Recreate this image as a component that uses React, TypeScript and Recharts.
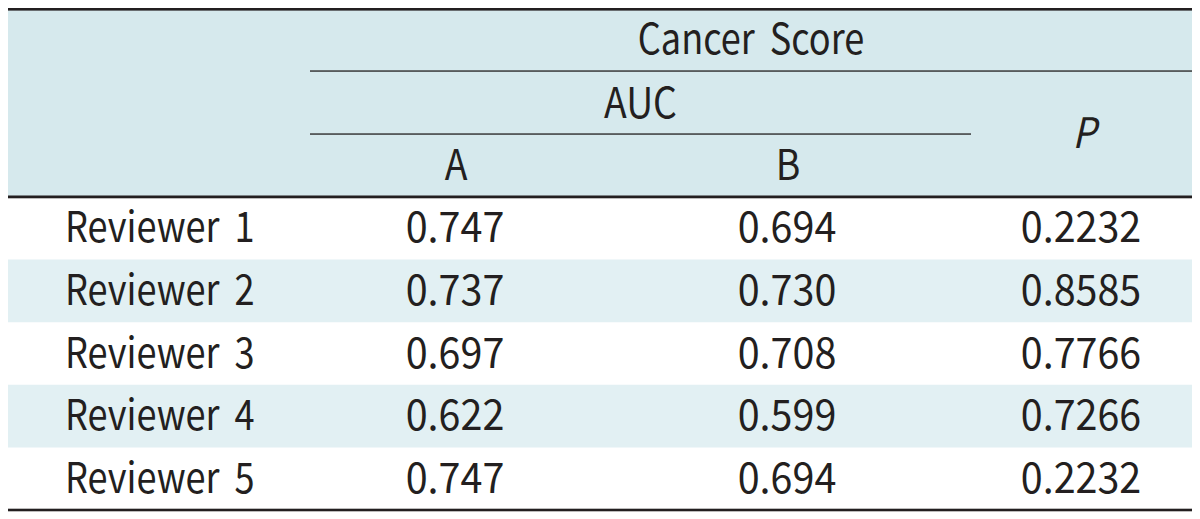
import React from "react";
import {
  ComposedChart,
  Scatter,
  XAxis,
  YAxis,
  ReferenceArea,
  Customized,
} from "recharts";

// ---- data ----
const reviewers = ["Reviewer 1", "Reviewer 2", "Reviewer 3", "Reviewer 4", "Reviewer 5"];
const aucA = [0.747, 0.737, 0.697, 0.622, 0.747];
const aucB = [0.694, 0.73, 0.708, 0.599, 0.694];
const pValues = [0.2232, 0.8585, 0.7766, 0.7266, 0.2232];
const groupTitle = "Cancer Score";
const subTitle = "AUC";
const columnLabels = ["A", "B"];
const pLabel = "P";
const shadedRows = ["Reviewer 2", "Reviewer 4"];

// ---- layout ----
const W = 1184;
const H = 508;
const HEADER_H = 189;
const BODY_BOTTOM = 502;
const FIRST_COL_W = 302;
const AUC_END = 963;
const COL_X = { A: 447, B: 779, P: 1073 };
const LABEL_X = 57;
const FONT = "'Noto Sans CJK KR', 'Noto Sans', sans-serif";
const FS = 42;
const SQUEEZE = 0.89;
const NUM_SQUEEZE = 0.94;
const TEXT = "#231f20";
const HEADER_BG = "#d6e9ed";
const ROW_BG = "#e2f0f3";

const makeSeries = (vals: number[], x: number, digits: number) =>
  reviewers.map((r, i) => ({ reviewer: r, x, value: vals[i], digits }));

const seriesA = makeSeries(aucA, COL_X.A, 3);
const seriesB = makeSeries(aucB, COL_X.B, 3);
const seriesP = makeSeries(pValues, COL_X.P, 4);

const SqText = ({
  x,
  y,
  anchor = "middle",
  italic = false,
  squeeze = SQUEEZE,
  wordSpacing = 0,
  children,
}: {
  x: number;
  y: number;
  anchor?: "start" | "middle" | "end";
  italic?: boolean;
  squeeze?: number;
  wordSpacing?: number;
  children: React.ReactNode;
}) => (
  <text
    transform={`translate(${x},${y}) scale(${squeeze},1)`}
    x={0}
    y={0}
    textAnchor={anchor}
    fontFamily={FONT}
    fontSize={FS}
    fontStyle={italic ? "italic" : "normal"}
    wordSpacing={wordSpacing}
    fill={TEXT}
  >
    {children}
  </text>
);

const CellText = (props: any) => {
  const { cx, cy, payload } = props;
  if (cx == null || cy == null) return null;
  return (
    <SqText x={cx} y={cy + 14} squeeze={NUM_SQUEEZE}>
      {payload.value.toFixed(payload.digits)}
    </SqText>
  );
};

const RowTick = (props: any) => {
  const { y, payload } = props;
  return (
    <SqText x={LABEL_X} y={y + 14} anchor="start" squeeze={0.86} wordSpacing={8}>
      {payload.value}
    </SqText>
  );
};

const Header = () => (
  <g>
    <rect x={0} y={0} width={W} height={HEADER_H} fill={HEADER_BG} />
    <rect x={0} y={0} width={W} height={2.6} fill={TEXT} />
    <rect x={FIRST_COL_W} y={62.3} width={W - FIRST_COL_W} height={1.5} fill="#3a3a3a" />
    <rect x={FIRST_COL_W} y={125.3} width={AUC_END - FIRST_COL_W} height={1.5} fill="#3a3a3a" />
    <rect x={0} y={HEADER_H - 1.5} width={W} height={2.8} fill={TEXT} />
    <rect x={0} y={BODY_BOTTOM - 1.3} width={W} height={2.6} fill={TEXT} />
    <SqText x={(FIRST_COL_W + W) / 2} y={46} squeeze={0.86} wordSpacing={8}>{groupTitle}</SqText>
    <SqText x={(FIRST_COL_W + AUC_END) / 2} y={110}>{subTitle}</SqText>
    <SqText x={COL_X.A + 1} y={172}>{columnLabels[0]}</SqText>
    <SqText x={COL_X.B + 1} y={172}>{columnLabels[1]}</SqText>
    <SqText x={COL_X.P + 3} y={140} italic>{pLabel}</SqText>
  </g>
);

export default function App() {
  return (
    <ComposedChart
      width={W}
      height={H}
      margin={{ top: HEADER_H, right: 0, bottom: H - BODY_BOTTOM, left: 0 }}
    >
      <XAxis type="number" dataKey="x" domain={[FIRST_COL_W, W]} hide allowDataOverflow />
      <YAxis
        type="category"
        dataKey="reviewer"
        allowDuplicatedCategory={false}
        scale="band"
        reversed
        width={FIRST_COL_W}
        axisLine={false}
        tickLine={false}
        tick={<RowTick />}
        interval={0}
      />
      {shadedRows.map((r) => (
        <ReferenceArea
          key={r}
          x1={0}
          x2={W}
          y1={r}
          y2={r}
          fill={ROW_BG}
          fillOpacity={1}
          stroke="none"
          ifOverflow="visible"
        />
      ))}
      <Customized component={Header} />
      <Scatter data={seriesA} dataKey="value" shape={<CellText />} isAnimationActive={false} />
      <Scatter data={seriesB} dataKey="value" shape={<CellText />} isAnimationActive={false} />
      <Scatter data={seriesP} dataKey="value" shape={<CellText />} isAnimationActive={false} />
    </ComposedChart>
  );
}
